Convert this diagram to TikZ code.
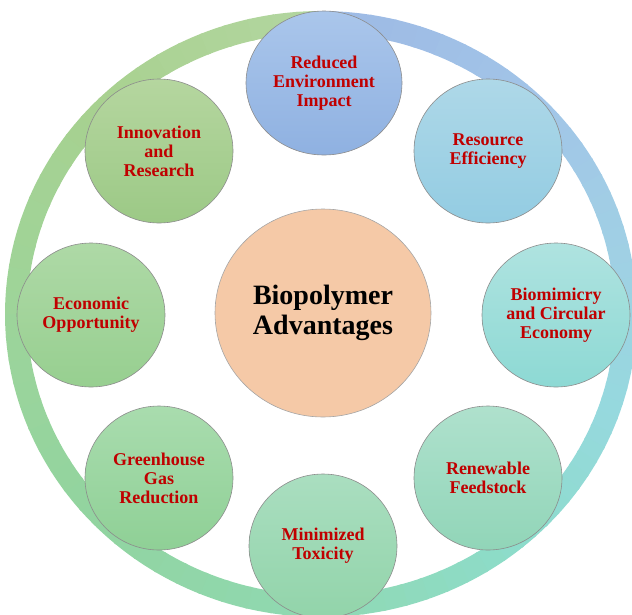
\documentclass[tikz,border=0pt]{standalone}
\usepackage{fontspec}
\setmainfont{Liberation Serif}
\usetikzlibrary{shapes.geometric}
\definecolor{txtred}{HTML}{C00000}
% ring key colours
\definecolor{ra}{HTML}{9DB9E4}
\definecolor{rb}{HTML}{A2C5E8}
\definecolor{rc}{HTML}{A0D1E4}
\definecolor{rd}{HTML}{96D9DE}
\definecolor{re}{HTML}{8DDCCB}
\definecolor{rf}{HTML}{90D9B3}
\definecolor{rg}{HTML}{91D4A0}
\definecolor{rh}{HTML}{9DD49A}
\definecolor{ri}{HTML}{A8D190}
\definecolor{rj}{HTML}{B3D6A0}
% circle colours
\definecolor{c1t}{HTML}{AAC6EB}\definecolor{c1b}{HTML}{8FB1E1}
\definecolor{c2t}{HTML}{AED8E8}\definecolor{c2b}{HTML}{93CCE2}
\definecolor{c3t}{HTML}{AFE3E0}\definecolor{c3b}{HTML}{8DD9D4}
\definecolor{c4t}{HTML}{AFE1CD}\definecolor{c4b}{HTML}{91D5B8}
\definecolor{c5t}{HTML}{AADEC0}\definecolor{c5b}{HTML}{92D4AA}
\definecolor{c6t}{HTML}{A9DCAE}\definecolor{c6b}{HTML}{8FD096}
\definecolor{c7t}{HTML}{AED9A6}\definecolor{c7b}{HTML}{97CF90}
\definecolor{c8t}{HTML}{B5D69F}\definecolor{c8b}{HTML}{9CC986}
\definecolor{cent}{HTML}{F5C9A7}
\tikzset{
  sat/.style={ellipse, draw=black!45, line width=0.6pt, minimum width=148pt,
    minimum height=144pt, inner sep=0pt, align=center,
    font=\fontsize{18}{19}\selectfont\bfseries, text=txtred},
  hub/.style={ellipse, draw=black!35, line width=0.6pt, fill=cent,
    minimum width=216pt, minimum height=208pt, inner sep=0pt, align=center,
    font=\fontsize{28}{30}\selectfont\bfseries, text=black},
  ringseg/.style={line width=22pt, line cap=butt}
}
\begin{document}
\begin{tikzpicture}[x=1pt,y=-1pt]
\useasboundingbox (0,0) rectangle (632,614);
% gradient ring
\foreach \sa/\ea/\ca/\cb in {90/45/ra/rb, 45/10/rb/rc, 10/-20/rc/rd, -20/-50/rd/re,
  -50/-90/re/rf, -90/-135/rf/rg, -135/-180/rg/rh, -180/-225/rh/ri, -225/-270/ri/rj}{
  \foreach \i in {0,...,9}{
    \pgfmathsetmacro\aa{\sa+(\ea-\sa)*\i/10}
    \pgfmathsetmacro\ab{\sa+(\ea-\sa)*(\i+1)/10-0.5}
    \pgfmathtruncatemacro\p{95-\i*10}
    \draw[ringseg, color=\ca!\p!\cb] plot[domain=\aa:\ab, samples=5]
      ({321+305*cos(\x)},{314-292*sin(\x)});
  }
}
% hub
\node[hub] (hub) at (323,313) {Biopolymer\\Advantages};
% satellites
\node[sat, top color=c1t, bottom color=c1b, minimum width=156pt] (reduced) at (324,83) {Reduced\\Environment\\Impact};
\node[sat, top color=c2t, bottom color=c2b] (resource) at (488,151) {Resource\\Efficiency};
\node[sat, top color=c3t, bottom color=c3b] (biomim) at (556,315) {Biomimicry\\and Circular\\Economy};
\node[sat, top color=c4t, bottom color=c4b] (renew) at (488,478) {Renewable\\Feedstock};
\node[sat, top color=c5t, bottom color=c5b] (toxic) at (323,546) {Minimized\\Toxicity};
\node[sat, top color=c6t, bottom color=c6b] (ghg) at (159,478) {Greenhouse\\Gas\\Reduction};
\node[sat, top color=c7t, bottom color=c7b] (econ) at (91,315) {Economic\\Opportunity};
\node[sat, top color=c8t, bottom color=c8b] (innov) at (159,151) {Innovation\\and\\Research};
\end{tikzpicture}
\end{document}
